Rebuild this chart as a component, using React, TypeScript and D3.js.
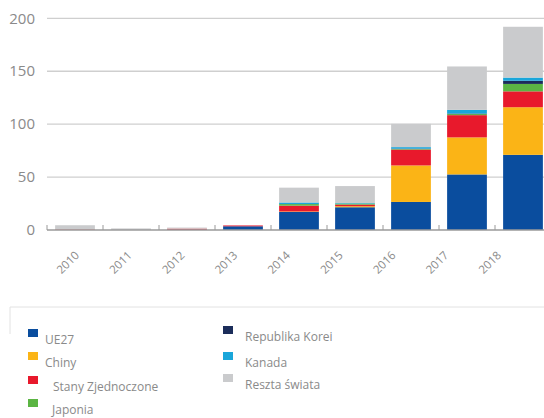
import * as d3 from "d3";

// values
const years = ["2010", "2011", "2012", "2013", "2014", "2015", "2016", "2017", "2018"];
const ue27 = [0, 0, 0.3, 3.5, 17, 21.5, 26.5, 52.5, 71];
const chiny = [0, 0, 0, 0, 0.5, 1, 34.5, 35, 45];
const usa = [0.5, 0, 1, 0.8, 5.5, 1.5, 15, 21, 15];
const japonia = [0, 0, 0, 0, 1.5, 1, 0.5, 1, 7];
const korea = [0, 0, 0, 0, 0, 0, 0.3, 0.5, 3];
const kanada = [0, 0, 0, 0, 1.5, 0.5, 1.5, 3.5, 3];
const reszta = [4, 1.5, 1, 0, 14, 16, 22, 41, 48];
const yTicks = [0, 50, 100, 150, 200];

const seriesKeys = ["UE27", "Chiny", "Stany Zjednoczone", "Japonia", "Republika Korei", "Kanada", "Reszta świata"];
const seriesValues = [ue27, chiny, usa, japonia, korea, kanada, reszta];
const colors = ["#0a4d9e", "#fbb416", "#e8192c", "#5bb543", "#1b2d5a", "#1aa6da", "#cacbcd"];

const W = 544;
const H = 418;
const font = "'Open Sans', 'DejaVu Sans', sans-serif";

export default function App() {
     const x = d3.scaleBand()
          .domain(years)
          .range([47, 551])
          .paddingInner(0.29)
          .paddingOuter(0.145);
     const y = d3.scaleLinear().domain([0, 200]).range([230, 18.3]);
     // labels sit a bit off the bar centres in the original
     const xLabel = d3.scalePoint().domain(years).range([80, 502]);

     const rows = years.map((yr, i) => {
          const r: any = { year: yr };
          seriesKeys.forEach((k, j) => (r[k] = seriesValues[j][i]));
          return r;
     });
     const stacked = d3.stack<any>().keys(seriesKeys)(rows);
     const step = x.step();

     // legend: 2 columns
     const legendCols = [
          { sx: 28, tx: 45, keys: [0, 1, 2, 3], ty: [340, 363, 387, 410], tdx: [0, 0, 8, 7] },
          { sx: 223, tx: 245, keys: [4, 5, 6], ty: [337, 363, 385], tdx: [0, 0, 0] },
     ];

     return (
          <svg width={W} height={H} style={{ position: "absolute", left: 0, top: 0, background: "#fff" }}>
               {yTicks.filter((t) => t > 0).map((t) => (
                    <line key={t} x1={47} x2={W} y1={y(t)} y2={y(t)} stroke="#cfcfcf" strokeWidth={1.3} />
               ))}
               {yTicks.map((t) => (
                    <text key={t} x={35} y={y(t)} dy="0.35em" textAnchor="end" fontSize={15} fill="#8a8a8a" fontFamily={font}>
                         {t}
                    </text>
               ))}
               {stacked.map((s, j) => (
                    <g key={s.key} fill={colors[j]}>
                         {s.map((d: any, i: number) => (
                              <rect
                                   key={i}
                                   x={x(years[i])}
                                   width={x.bandwidth()}
                                   y={y(d[1])}
                                   height={Math.max(0, y(d[0]) - y(d[1]))}
                              />
                         ))}
                    </g>
               ))}
               <line x1={47} x2={W} y1={y(0)} y2={y(0)} stroke="#9a9a9a" strokeWidth={1.5} />
               {years.map((yr) => {
                    const tx = (x(yr) as number) - step * 0.145;
                    return <line key={yr} x1={tx} x2={tx} y1={y(0)} y2={y(0) - 5} stroke="#9a9a9a" strokeWidth={1} />;
               })}
               {years.map((yr) => (
                    <text
                         key={yr}
                         transform={`translate(${xLabel(yr)},${256}) rotate(-45)`}
                         textAnchor="end"
                         fontSize={11.5}
                         fill="#8a8a8a"
                         fontFamily={font}
                    >
                         {yr}
                    </text>
               ))}
               <line x1={10} x2={W} y1={307} y2={307} stroke="#e2e2e2" strokeWidth={1} />
               <line x1={10} x2={10} y1={307} y2={334} stroke="#e2e2e2" strokeWidth={1} />
               {legendCols.map((c, ci) => (
                    <g key={ci}>
                         {c.keys.map((k, ri) => (
                              <g key={k}>
                                   <rect x={c.sx} y={c.ty[ri] - 11} width={10} height={8} fill={colors[k]} />
                                   <text x={c.tx + c.tdx[ri]} y={c.ty[ri]} dy="0.35em" fontSize={12} fill="#8a8a8a" fontFamily={font}>
                                        {seriesKeys[k]}
                                   </text>
                              </g>
                         ))}
                    </g>
               ))}
          </svg>
     );
}
